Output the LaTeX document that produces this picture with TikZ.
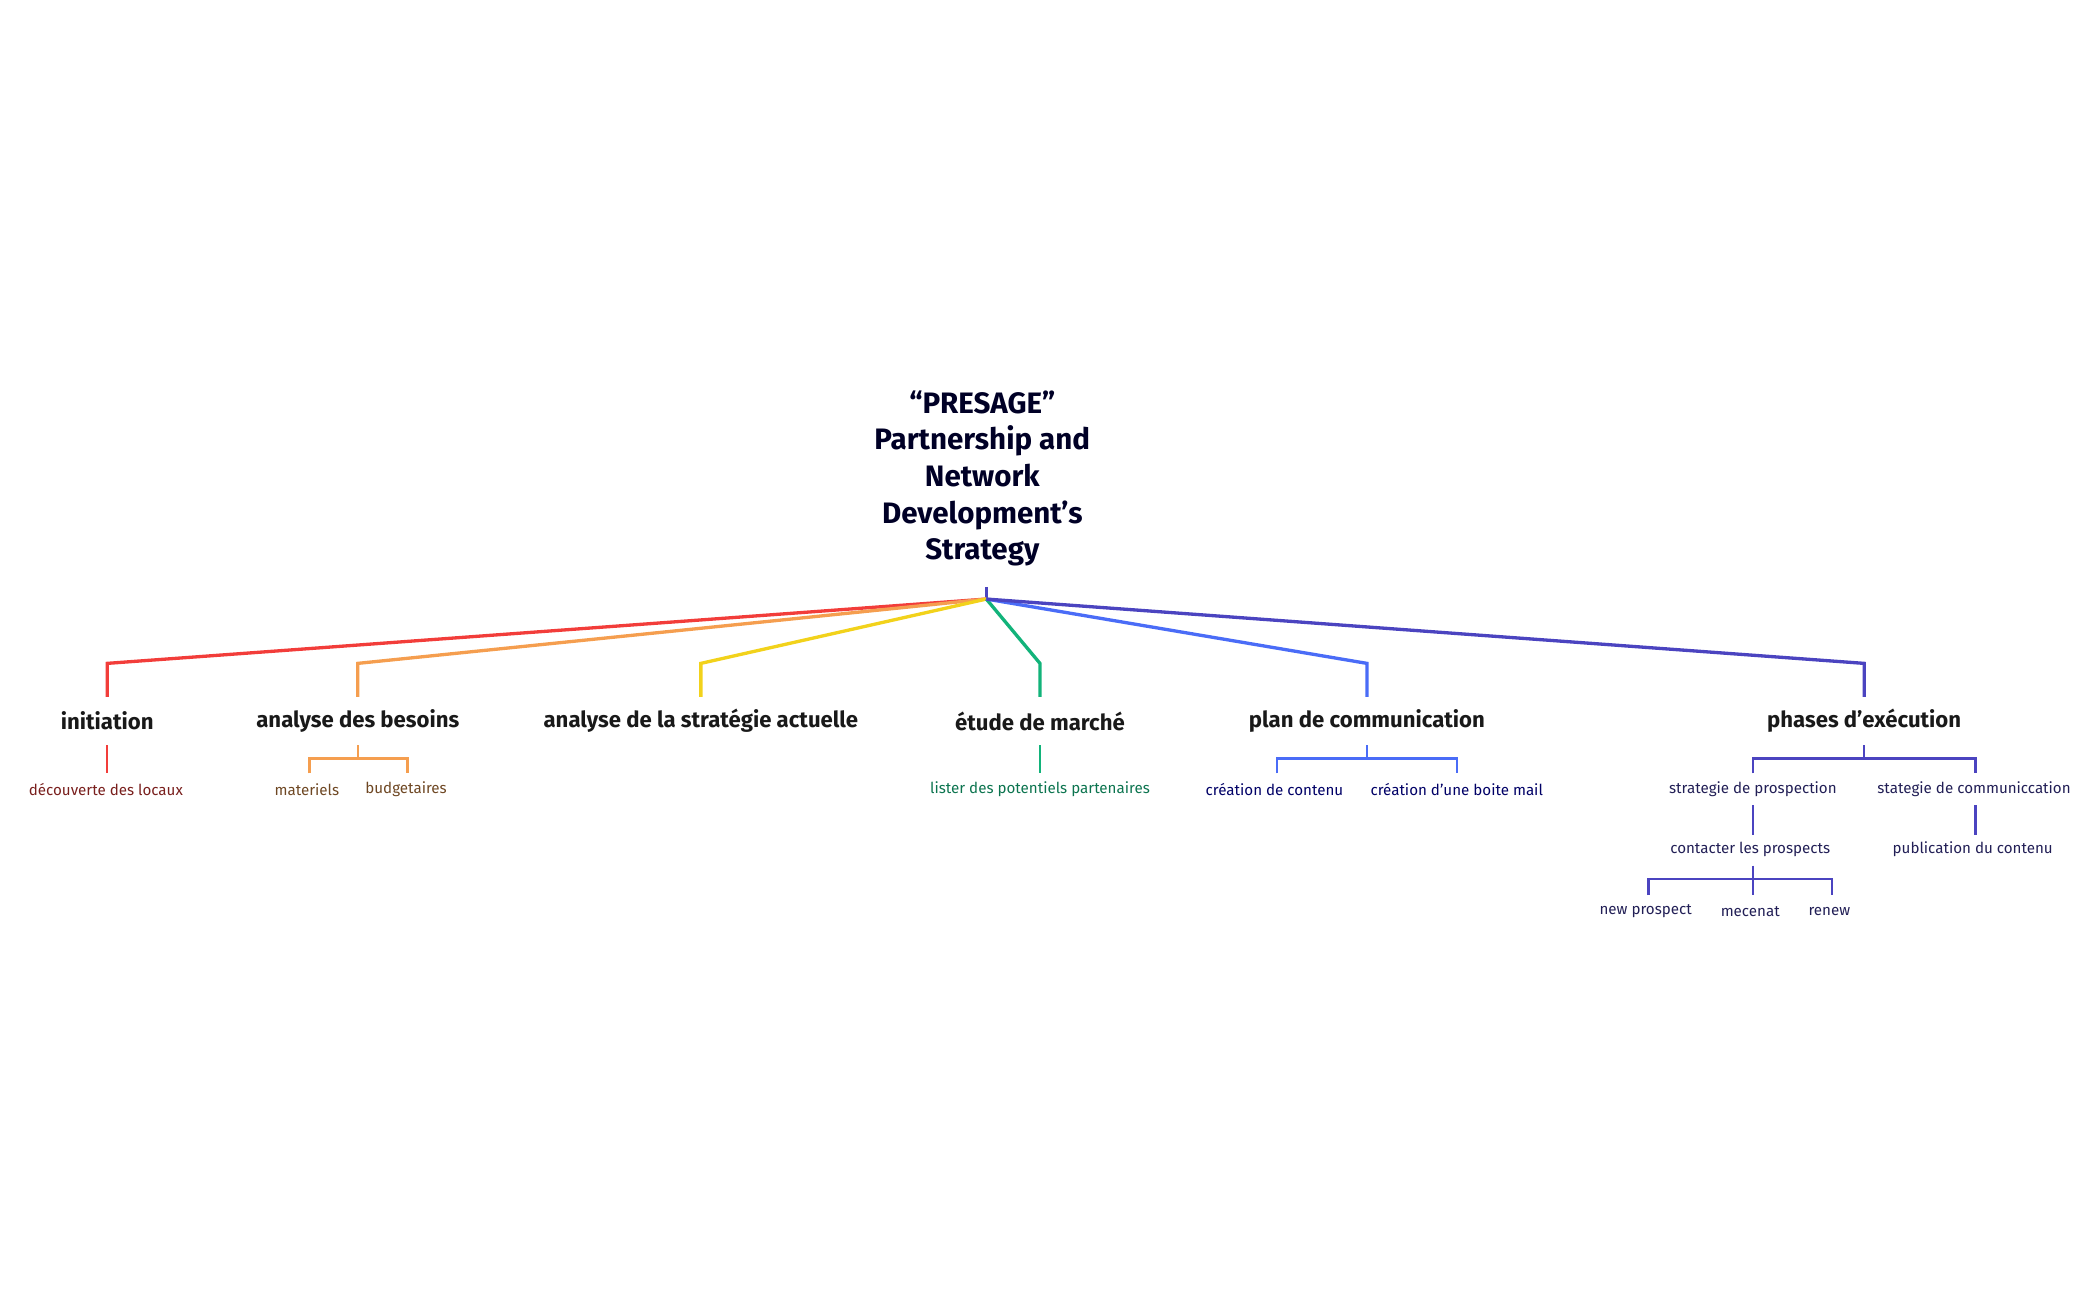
\documentclass[tikz,border=0pt]{standalone}
\usepackage{fontspec}
\setmainfont{Fira Sans}
\usetikzlibrary{arrows,shapes}
\definecolor{cred}{HTML}{F23D3A}
\definecolor{corange}{HTML}{F59E4F}
\definecolor{cyellow}{HTML}{F2D21B}
\definecolor{cgreen}{HTML}{12B37A}
\definecolor{cblue}{HTML}{4A6CF7}
\definecolor{cindigo}{HTML}{4B44C0}
\tikzstyle{root}=[align=center,font=\fontsize{8}{9.9}\selectfont\bfseries,text=black!85!blue,inner sep=0pt]
\tikzstyle{branch}=[font=\fontsize{6}{7}\selectfont\bfseries,text=black!90,inner sep=0pt]
\tikzstyle{leaf}=[font=\fontsize{4.1}{5}\selectfont,inner sep=0pt]
\tikzstyle{edge}=[draw,line width=0.9pt]
\tikzstyle{twig}=[draw,line width=0.6pt]
\begin{document}
\begin{tikzpicture}[x=0.01276cm,y=-0.01276cm]
    \useasboundingbox (0,0) rectangle (1567,969);
    % the central title
    \node[root] (title) at (733,357) {``PRESAGE''\\Partnership and\\Network\\Development's\\Strategy};
    \coordinate (hub) at (736,447);
    \draw[cindigo,line width=0.9pt] (736,438) -- (hub);

    % main branches
    \foreach \x/\name/\col/\txt in {80/init/cred/initiation, 267/besoins/corange/analyse des besoins, 523/strat/cyellow/analyse de la stratégie actuelle, 776/etude/cgreen/étude de marché, 1020/plan/cblue/plan de communication, 1391/phases/cindigo/phases d’exécution}
    {
        \node[branch] (\name) at (\x,538) {\txt};
        \path[edge,\col] (hub) -- (\x,495) -- (\x,520);
    }

    % leaves of level two
    \foreach \x/\name/\col/\txt in {79/locaux/cred!50!black/découverte des locaux, 229/materiels/corange!45!black/materiels, 303/budget/corange!45!black/budgetaires, 776/lister/cgreen!65!black/lister des potentiels partenaires, 951/contenu/blue!40!black/création de contenu, 1087/mail/blue!40!black/création d’une boite mail, 1308/prosp/cindigo!45!black/strategie de prospection, 1473/comm/cindigo!45!black/stategie de communiccation}
        \node[leaf,text=\col] (\name) at (\x,589) {\txt};

    \draw[twig,cred] (80,556) -- (80,577);
    \draw[twig,corange] (267,556) -- (267,566) (231,577) |- (304,566) -- (304,577);
    \draw[twig,cgreen] (776,556) -- (776,577);
    \draw[twig,cblue] (1020,556) -- (1020,566) (953,577) |- (1087,566) -- (1087,577);
    \draw[twig,cindigo] (1391,556) -- (1391,566) (1308,577) |- (1474,566) -- (1474,577);

    % deeper levels of the execution phases
    \node[leaf,text=cindigo!45!black] (contact) at (1306,634) {contacter les prospects};
    \node[leaf,text=cindigo!45!black] (public) at (1472,634) {publication du contenu};
    \foreach \x/\name/\txt in {1228/newp/new prospect, 1306/mecenat/mecenat, 1365/renew/renew}
        \node[leaf,text=cindigo!45!black] (\name) at (\x,680) {\txt};
    \draw[twig,cindigo] (1308,601) -- (1308,623) (1474,601) -- (1474,623);
    \draw[twig,cindigo] (1308,646) -- (1308,668) (1230,668) |- (1367,656) -- (1367,668);
\end{tikzpicture}
\end{document}
